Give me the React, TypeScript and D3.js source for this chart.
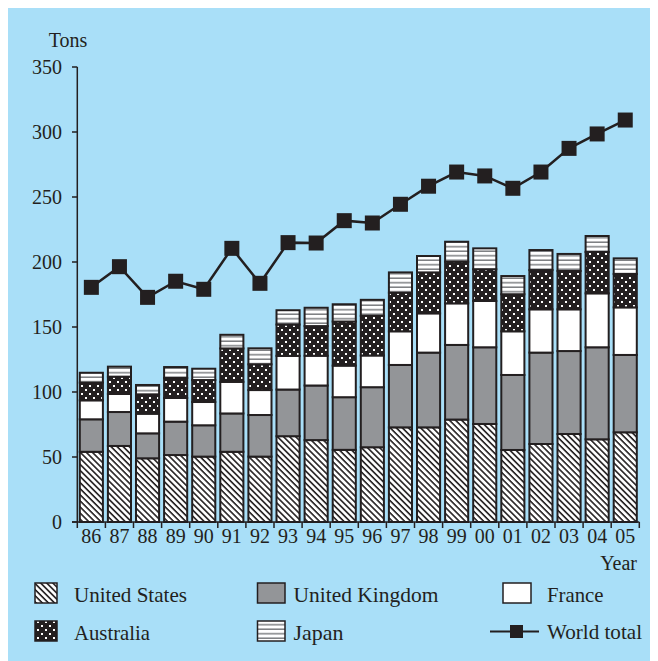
import React from "react";
import * as d3 from "d3";

const years = ["86","87","88","89","90","91","92","93","94","95","96","97","98","99","00","01","02","03","04","05"];
const unitedStates = [54, 58.5, 49, 51.5, 50.3, 54, 50.3, 66, 63, 55.5, 57.5, 72.8, 72.8, 78.8, 75.4, 55.4, 60, 67.7, 63.6, 69];
const unitedKingdom = [25, 26.1, 19.2, 25.7, 24.1, 29.5, 32, 35.9, 42, 40.5, 46.2, 48, 57.5, 57.4, 59, 57.7, 70.3, 63.8, 70.8, 59.5];
const france = [14.6, 13.9, 15.1, 18.2, 17.9, 24.3, 19.2, 25.9, 22.9, 24.3, 24.4, 25.9, 30.2, 32, 35.6, 33.6, 33.3, 32.1, 41.5, 36.6];
const australia = [13.6, 13.3, 14.9, 15.4, 16.9, 25.7, 19.8, 24.1, 22.8, 33.9, 30.5, 29.7, 31.5, 32, 24.4, 28.5, 30.2, 29.5, 31.8, 25.7];
const japan = [7.6, 7.7, 7.2, 8.4, 8.7, 10.5, 12.3, 11, 14.1, 13.3, 12.3, 15.6, 12.6, 15.4, 16.1, 14, 15.4, 13.1, 12.3, 12];
const worldTotal = [180.5, 196.4, 172.8, 185.2, 179, 210.5, 183.6, 214.9, 214.6, 231.8, 230, 244.4, 258.3, 269.2, 266.2, 256.7, 269.2, 287.4, 298.5, 309.2];
const yTicks = [0, 50, 100, 150, 200, 250, 300, 350];

const seriesKeys = ["us", "uk", "fr", "au", "jp"];
const seriesLabels = ["United States", "United Kingdom", "France", "Australia", "Japan"];

const INK = "#231f20";
const BG = "#a9dff8";
const GRAY = "#939598";
const FONT = "'Liberation Serif', 'Times New Roman', serif";

const fills: Record<string, string> = {
  us: "url(#pUS)",
  uk: GRAY,
  fr: "#ffffff",
  au: "url(#pAU)",
  jp: "url(#pJP)",
};

export default function App() {
  const rows = years.map((yr, i) => ({
    year: yr,
    us: unitedStates[i],
    uk: unitedKingdom[i],
    fr: france[i],
    au: australia[i],
    jp: japan[i],
  }));
  const stacked = d3.stack<any>().keys(seriesKeys)(rows);

  const x = d3.scaleBand<string>().domain(years).range([77.3, 639.3]).padding(0);
  const y = d3.scaleLinear().domain([0, 350]).range([522, 67]);
  const bw = x.bandwidth();
  const cx = (yr: string) => (x(yr) as number) + bw / 2;

  const line = d3
    .line<number>()
    .x((_, i) => cx(years[i]))
    .y((d) => y(d));

  const tickXs = [...years.map((yr) => x(yr) as number), 639.3];

  const legend = [
    { key: "us", label: seriesLabels[0], sx: 35, sw: 22, sy: 583, tx: 74, ty: 602, tl: 113 },
    { key: "uk", label: seriesLabels[1], sx: 257.5, sw: 27.5, sy: 583, tx: 293.5, ty: 602, tl: 145 },
    { key: "fr", label: seriesLabels[2], sx: 503, sw: 28, sy: 583, tx: 547, ty: 602, tl: 56.5 },
    { key: "au", label: seriesLabels[3], sx: 35, sw: 22, sy: 621, tx: 74, ty: 640, tl: 76 },
    { key: "jp", label: seriesLabels[4], sx: 257.5, sw: 27.5, sy: 621, tx: 293.5, ty: 640, tl: 50 },
  ];

  return (
    <svg width={650} height={653} viewBox="8 8 650 653" style={{ display: "block" }}>
      <defs>
        <pattern id="pUS" patternUnits="userSpaceOnUse" width={4.3} height={4.3} patternTransform="rotate(45)">
          <rect x={0} y={0} width={4.3} height={4.3} fill="#ffffff" />
          <rect x={0} y={0} width={4.3} height={1.6} fill={INK} />
        </pattern>
        <pattern id="pAU" patternUnits="userSpaceOnUse" width={8} height={8}>
          <rect x={0} y={0} width={8} height={8} fill={INK} />
          <rect x={1} y={1} width={2} height={2} fill="#ffffff" />
          <rect x={5} y={5} width={2} height={2} fill="#ffffff" />
        </pattern>
        <pattern id="pJP" patternUnits="userSpaceOnUse" width={8} height={4.5}>
          <rect x={0} y={0} width={8} height={4.5} fill="#ffffff" />
          <rect x={0} y={3} width={8} height={1.5} fill="#7d7f82" />
        </pattern>
      </defs>
      <rect x={8} y={8} width={650} height={653} fill={BG} />

      {/* bars */}
      {stacked.map((s) => (
        <g key={s.key}>
          {s.map((d, i) => (
            <rect
              key={i}
              x={(x(years[i]) as number) + 2.5}
              y={y(d[1])}
              width={bw - 5}
              height={y(d[0]) - y(d[1])}
              fill={fills[s.key]}
              stroke={INK}
              strokeWidth={2}
            />
          ))}
        </g>
      ))}

      {/* axes */}
      <line x1={77.3} x2={77.3} y1={67} y2={522} stroke={INK} strokeWidth={1.5} />
      <line x1={72} x2={639.3} y1={522} y2={522} stroke={INK} strokeWidth={1.5} />
      {yTicks.map((t) => (
        <g key={t}>
          <line x1={72} x2={77.3} y1={y(t)} y2={y(t)} stroke={INK} strokeWidth={1.5} />
          <text x={62} y={y(t) + 7} textAnchor="end" fontFamily={FONT} fontSize={20} fill={INK}>
            {t}
          </text>
        </g>
      ))}
      {tickXs.map((tx, i) => (
        <line key={i} x1={tx} x2={tx} y1={522} y2={528} stroke={INK} strokeWidth={1.5} />
      ))}
      {years.map((yr) => (
        <text key={yr} x={cx(yr)} y={543} textAnchor="middle" fontFamily={FONT} fontSize={20} fill={INK}>
          {yr}
        </text>
      ))}
      <text x={68} y={47} textAnchor="middle" fontFamily={FONT} fontSize={20} fill={INK}>Tons</text>
      <text x={637} y={570} textAnchor="end" fontFamily={FONT} fontSize={20} fill={INK}>Year</text>

      {/* world total line */}
      <path d={line(worldTotal) || ""} fill="none" stroke={INK} strokeWidth={2.5} />
      {worldTotal.map((v, i) => (
        <rect key={i} x={cx(years[i]) - 7.5} y={y(v) - 7.5} width={15} height={15} fill={INK} />
      ))}

      {/* legend */}
      {legend.map((l) => (
        <g key={l.key}>
          <rect x={l.sx} y={l.sy} width={l.sw} height={20} fill={fills[l.key]} stroke={INK} strokeWidth={1.5} />
          <text x={l.tx} y={l.ty} fontFamily={FONT} fontSize={21} fill={INK} textLength={l.tl} lengthAdjust="spacingAndGlyphs">
            {l.label}
          </text>
        </g>
      ))}
      <line x1={490} x2={539} y1={631.5} y2={631.5} stroke={INK} strokeWidth={2} />
      <rect x={510} y={625} width={13} height={13} fill={INK} />
      <text x={547} y={639} fontFamily={FONT} fontSize={21} fill={INK} textLength={95} lengthAdjust="spacingAndGlyphs">
        World total
      </text>
    </svg>
  );
}
